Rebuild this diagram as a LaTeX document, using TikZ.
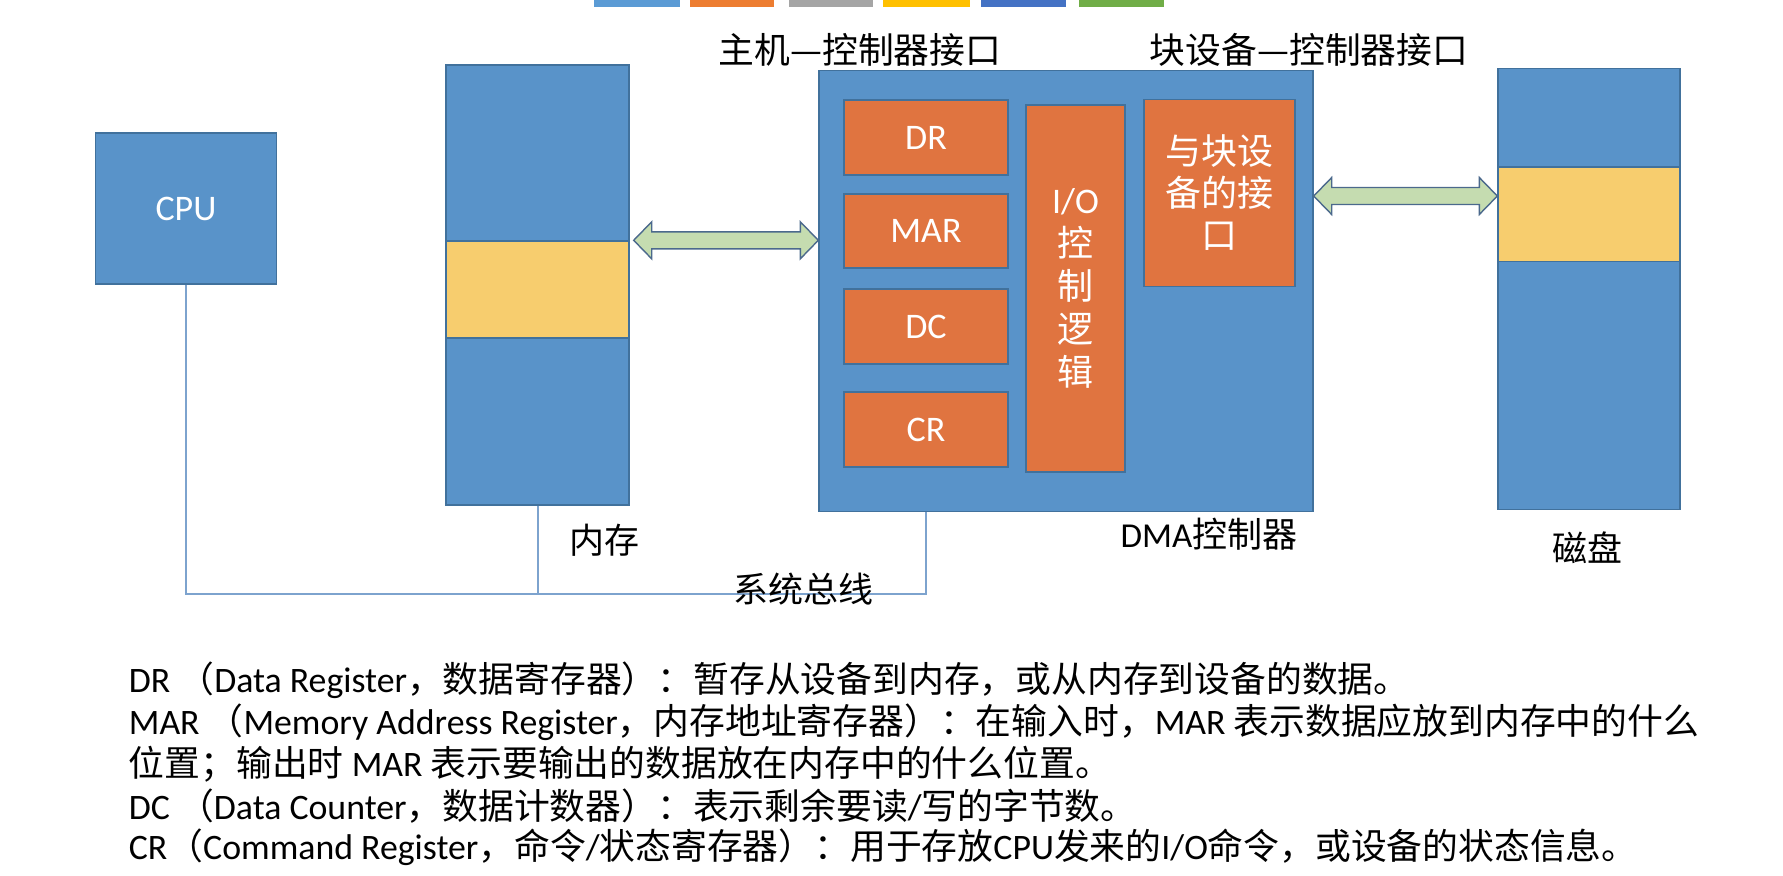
\documentclass[tikz,border=0pt]{standalone}
\usepackage{fontspec}
\setmainfont{Noto Sans CJK SC}
\newfontfamily\lat{Carlito}
\usetikzlibrary{calc}
\definecolor{bfill}{RGB}{89,147,201}
\definecolor{bline}{RGB}{65,113,156}
\definecolor{ofill}{RGB}{224,116,64}
\definecolor{yfill}{RGB}{247,205,110}
\definecolor{gfill}{RGB}{197,220,176}
\definecolor{gline}{RGB}{75,105,140}
\definecolor{busc}{RGB}{125,163,206}
\definecolor{tb1}{RGB}{91,155,213}
\definecolor{tb2}{RGB}{237,125,49}
\definecolor{tb3}{RGB}{165,165,165}
\definecolor{tb4}{RGB}{255,192,0}
\definecolor{tb5}{RGB}{68,114,196}
\definecolor{tb6}{RGB}{112,173,71}
\newcommand\dblarrow[2]{%
  \filldraw[fill=gfill,draw=gline,line width=0.7pt,line join=miter]
   (#1) -- ($(#1)+(18,-18.5)$) -- ($(#1)+(18,-8.5)$) -- ($(#2)+(-18,-8.5)$)
   -- ($(#2)+(-18,-18.5)$) -- (#2) -- ($(#2)+(-18,18.5)$) -- ($(#2)+(-18,8.5)$)
   -- ($(#1)+(18,8.5)$) -- ($(#1)+(18,18.5)$) -- cycle;}
\tikzset{
  bluebox/.style={draw=bline,fill=bfill,line width=0.7pt,inner sep=0pt,text=white,
    font=\lat\fontsize{18}{21}\selectfont},
  orbox/.style={draw=bline,fill=ofill,line width=0.7pt,inner sep=0pt,text=white,
    font=\lat\fontsize{18}{21}\selectfont},
  ybox/.style={draw=bline,fill=yfill,line width=0.7pt,inner sep=0pt},
  lbl/.style={inner sep=0pt,font=\fontsize{17.5}{21}\selectfont},
  para/.style={inner sep=0pt,anchor=base west,font=\fontsize{17.9}{21}\selectfont},
  bus/.style={draw=busc,line width=1pt},
}
\begin{document}
\begin{tikzpicture}[x=0.5pt,y=-0.5pt]
\useasboundingbox[fill=white] (0,0) rectangle (1783,875);
% top colour bars
\fill[tb1] (594,0) rectangle (680,7);
\fill[tb2] (690,0) rectangle (774,7);
\fill[tb3] (789,0) rectangle (873,7);
\fill[tb4] (883,0) rectangle (970,7);
\fill[tb5] (981,0) rectangle (1066,7);
\fill[tb6] (1079,0) rectangle (1164,7);
% titles
\node[lbl,font=\fontsize{17.9}{21}\selectfont] (t1) at (860,50) {主机—控制器接口};
\node[lbl,font=\fontsize{17.9}{21}\selectfont] (t2) at (1309,50) {块设备—控制器接口};
% CPU
\node[bluebox,minimum width=90.5pt,minimum height=75.5pt] (cpu) at (186,208.5) {CPU};
% memory
\node[bluebox,minimum width=91.5pt,minimum height=220pt] (mem) at (537.5,285) {};
\node[ybox,minimum width=91.5pt,minimum height=48.5pt] (memY) at (537.5,289.5) {};
\node[lbl] (memL) at (604,540) {内存};
% DMA controller
\node[bluebox,minimum width=247pt,minimum height=220.5pt] (dma) at (1066,291) {};
\node[orbox,minimum width=82pt,minimum height=37.5pt] (dr) at (926,137.5) {DR};
\node[orbox,minimum width=82pt,minimum height=37pt] (mar) at (926,231) {MAR};
\node[orbox,minimum width=82pt,minimum height=37.5pt] (dc) at (926,326.5) {DC};
\node[orbox,minimum width=82pt,minimum height=37.5pt] (cr) at (926,429.5) {CR};
\node[orbox,minimum width=49.5pt,minimum height=183.5pt,align=center,
  font=\fontsize{18}{21.5}\selectfont] (io) at (1075.5,288.5) {{\lat I/O}\\控\\制\\逻\\辑};
\node[orbox,minimum width=75.5pt,minimum height=93.25pt,align=center,
  font=\fontsize{18}{21}\selectfont] (ifc) at (1219.5,193) {与块设\\备的接\\口};
\node[lbl] (dmaL) at (1209,534) {{\lat DMA}控制器};
% disk
\node[bluebox,minimum width=91pt,minimum height=220.5pt] (disk) at (1589,288.7) {};
\node[ybox,minimum width=91pt,minimum height=47.25pt] (diskY) at (1589,214.3) {};
\node[lbl] (diskL) at (1587,548) {磁盘};
% double arrows
\coordinate (a1L) at ($(memY.north east)+(4,0)$);
\coordinate (a1R) at (dma.west |- a1L);
\dblarrow{a1L}{a1R}
\coordinate (a2L) at (dma.east |- 0,196);
\coordinate (a2R) at (disk.west |- a2L);
\dblarrow{a2L}{a2R}
% system bus
\coordinate (busR) at (926,593.6);
\draw[bus] (cpu.south) |- (busR) -- (dma.south -| busR);
\draw[bus] (mem.south) -- (mem.south |- busR);
\node[lbl] (busL) at (803,589) {系统总线};
% explanation text
\node[para] (l1) at (128.5,692) {{\lat DR }（{\lat Data Register}，数据寄存器）：暂存从设备到内存，或从内存到设备的数据。};
\node[para] (l2) at (128.5,734) {{\lat MAR }（{\lat Memory Address Register}，内存地址寄存器）：在输入时，{\lat MAR }表示数据应放到内存中的什么};
\node[para] (l3) at (128.5,776) {位置；输出时{\lat\ MAR }表示要输出的数据放在内存中的什么位置。};
\node[para] (l4) at (128.5,819) {{\lat DC }（{\lat Data Counter}，数据计数器）：表示剩余要读{\lat/}写的字节数。};
\node[para] (l5) at (128.5,859) {{\lat CR}（{\lat Command Register}，命令{\lat/}状态寄存器）：用于存放{\lat CPU}发来的{\lat I/O}命令，或设备的状态信息。};
\end{tikzpicture}
\end{document}
